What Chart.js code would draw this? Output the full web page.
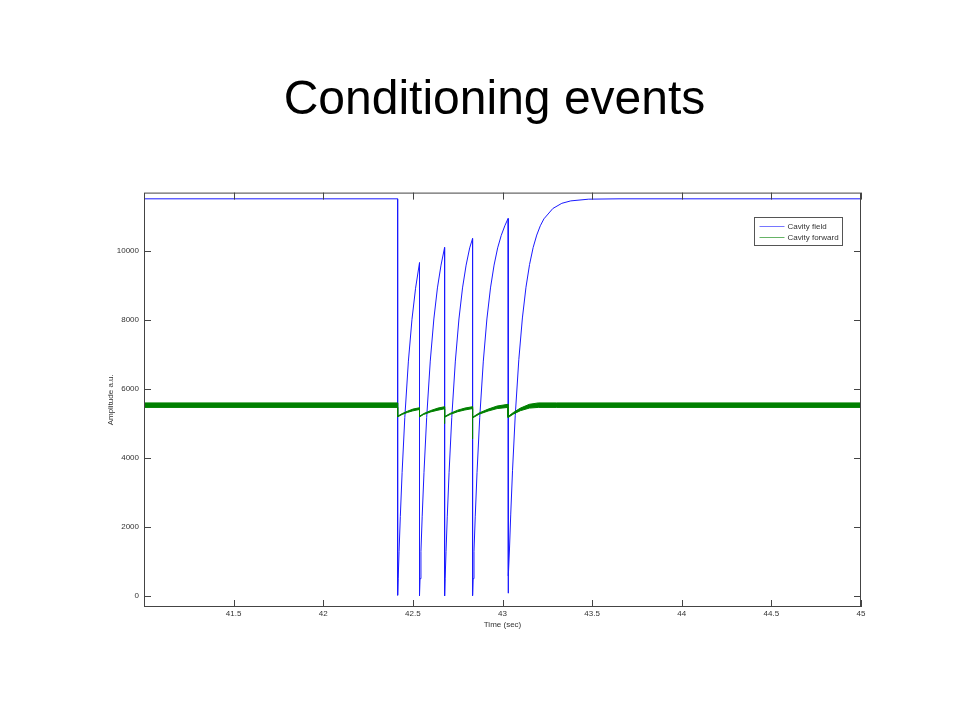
<!DOCTYPE html>
<html><head><meta charset="utf-8">
<script src="https://cdn.jsdelivr.net/npm/chart.js@4/dist/chart.umd.min.js"></script>
<style>html,body{margin:0;padding:0;background:#fff;}#wrap{width:960px;height:720px;}</style>
</head><body><div id="wrap"><canvas id="c" width="960" height="720"></canvas></div>
<script>
const chartTitle = 'Conditioning events';
const seriesNames = ['Cavity field', 'Cavity forward'];
const xAxisTitle = 'Time (sec)';
const yAxisTitle = 'Amplitude a.u.';
const xTicks = [41.5, 42, 42.5, 43, 43.5, 44, 44.5, 45];
const yTicks = [0, 2000, 4000, 6000, 8000, 10000];

// Cavity field (blue)
const fieldTime = [41.0, 42.415, 42.415, 42.418, 42.423, 42.430, 42.440, 42.455, 42.475, 42.495, 42.515, 42.537,
  42.537, 42.540, 42.545, 42.552, 42.562, 42.577, 42.597, 42.617, 42.637, 42.657, 42.677,
  42.677, 42.680, 42.685, 42.692, 42.702, 42.717, 42.737, 42.757, 42.777, 42.797, 42.817, 42.833,
  42.833, 42.836, 42.841, 42.848, 42.858, 42.873, 42.893, 42.913, 42.933, 42.953, 42.973, 42.993, 43.013, 43.031,
  43.031, 43.034, 43.039, 43.046, 43.056, 43.071, 43.091, 43.111, 43.131, 43.151, 43.171, 43.191, 43.211, 43.231, 43.281, 43.331, 43.381, 43.481, 43.65, 45.0];
const fieldValue = [11500, 11500, 20, 500, 1290, 2300, 3580, 5170, 6800, 8010, 8910, 9650,
  10, 500, 1290, 2310, 3580, 5170, 6800, 8020, 8920, 9580, 10090,
  0, 500, 1290, 2310, 3580, 5170, 6800, 8020, 8920, 9580, 10080, 10350,
  10, 500, 1290, 2310, 3580, 5170, 6800, 8020, 8920, 9580, 10080, 10440, 10720, 10930,
  80, 580, 1360, 2370, 3640, 5220, 6840, 8050, 8940, 9600, 10090, 10450, 10720, 10920, 11220, 11370, 11440, 11490, 11500, 11500];

// Cavity forward (green) - upper and lower edge of the noisy band
const forwardTime = [41.0, 42.415, 42.415, 42.44, 42.47, 42.50, 42.537, 42.537, 42.56, 42.60, 42.64, 42.677, 42.677, 42.677,
  42.71, 42.75, 42.79, 42.833, 42.833, 42.833, 42.87, 42.92, 42.97, 43.031, 43.031, 43.06, 43.10, 43.15, 43.20, 43.30, 45.0];
const forwardUpper = [5590, 5590, 5205, 5280, 5350, 5410, 5450, 5205, 5280, 5370, 5440, 5480, 5195, 5195,
  5290, 5380, 5440, 5480, 5175, 5175, 5300, 5410, 5500, 5550, 5195, 5310, 5440, 5550, 5590, 5590, 5590];
const forwardLower = [5460, 5460, 5185, 5255, 5315, 5360, 5400, 5185, 5255, 5330, 5380, 5420, 4990, 5175,
  5260, 5335, 5385, 5425, 4550, 5155, 5265, 5355, 5425, 5460, 5165, 5265, 5365, 5440, 5460, 5460, 5460];

const FONT = "'Liberation Sans', Arial, sans-serif";
const BLUE = '#1a1aff';
const GREEN = '#008000';
const FRAME = '#444444';
const TEXT = '#333333';

const toPts = (xs, ys) => xs.map((x, i) => ({x: x, y: ys[i]}));

const framePlugin = {
  id: 'frame',
  afterDraw(chart) {
    const {ctx, chartArea: a, scales: {x, y}} = chart;
    ctx.save();
    ctx.strokeStyle = FRAME;
    ctx.lineWidth = 1;
    ctx.strokeRect(a.left + 0.5, a.top + 0.5, a.width - 1, a.height - 1);
    const L = 7;
    ctx.beginPath();
    x.ticks.forEach(t => {
      const px = Math.round(x.getPixelForValue(t.value)) + 0.5;
      ctx.moveTo(px, a.bottom); ctx.lineTo(px, a.bottom - L);
      ctx.moveTo(px, a.top); ctx.lineTo(px, a.top + L);
    });
    y.ticks.forEach(t => {
      const py = Math.round(y.getPixelForValue(t.value)) + 0.5;
      ctx.moveTo(a.left, py); ctx.lineTo(a.left + L, py);
      ctx.moveTo(a.right, py); ctx.lineTo(a.right - L, py);
    });
    ctx.stroke();

    // legend box (inside plot, top-right)
    const bw = 88, bh = 28;
    const bx = Math.round(a.right - 19 - bw) + 0.5;
    const by = Math.round(a.top + 24) + 0.5;
    ctx.fillStyle = '#ffffff';
    ctx.fillRect(bx, by, bw, bh);
    ctx.strokeStyle = '#555555';
    ctx.strokeRect(bx, by, bw, bh);
    const items = [
      {label: chart.data.datasets[0].label, color: chart.data.datasets[0].borderColor},
      {label: chart.data.datasets[1].label, color: chart.data.datasets[1].borderColor}
    ];
    ctx.font = '8px ' + FONT;
    ctx.textBaseline = 'middle';
    ctx.textAlign = 'left';
    items.forEach((it, i) => {
      const ry = Math.round(by + 8 + i * 11) + 0.5;
      ctx.strokeStyle = it.color;
      ctx.globalAlpha = 0.6;
      ctx.beginPath();
      ctx.moveTo(bx + 5, ry); ctx.lineTo(bx + 30, ry);
      ctx.stroke();
      ctx.globalAlpha = 1;
      ctx.fillStyle = TEXT;
      ctx.fillText(it.label, bx + 33, ry);
    });
    ctx.restore();
  }
};

new Chart(document.getElementById('c'), {
  type: 'line',
  data: {
    datasets: [
      {label: seriesNames[0], data: toPts(fieldTime, fieldValue), borderColor: BLUE, borderWidth: 1,
       pointRadius: 0, fill: false, tension: 0, order: 1},
      {label: seriesNames[1], data: toPts(forwardTime, forwardUpper), borderColor: GREEN, borderWidth: 1,
       pointRadius: 0, fill: false, tension: 0, order: 0},
      {label: seriesNames[1] + ' lower', data: toPts(forwardTime, forwardLower), borderColor: GREEN, borderWidth: 1,
       pointRadius: 0, fill: '-1', backgroundColor: GREEN, tension: 0, order: 0}
    ]
  },
  options: {
    responsive: false,
    devicePixelRatio: 1,
    animation: false,
    events: [],
    layout: {padding: {left: 100, right: 71, top: 0, bottom: 83}},
    plugins: {
      legend: {display: false},
      tooltip: {enabled: false},
      title: {display: true, text: chartTitle, color: '#000',
        font: {family: FONT, size: 48, weight: 'normal', lineHeight: 1.2},
        padding: {top: 72, bottom: 63}}
    },
    scales: {
      x: {
        type: 'linear', min: 41, max: 45,
        afterBuildTicks: s => { s.ticks = xTicks.map(v => ({value: v})); },
        afterFit: s => { s.height = 30; },
        grid: {display: false, drawTicks: false},
        border: {display: false},
        ticks: {padding: 2, color: TEXT, font: {family: FONT, size: 8}, maxRotation: 0, autoSkip: false,
          callback: v => String(v)},
        title: {display: true, text: xAxisTitle, color: TEXT, font: {family: FONT, size: 8},
          padding: {top: 0, bottom: 7}}
      },
      y: {
        type: 'linear', min: -320, max: 11680,
        afterBuildTicks: s => { s.ticks = yTicks.map(v => ({value: v})); },
        afterFit: s => { s.width = 44; },
        grid: {display: false, drawTicks: false},
        border: {display: false},
        ticks: {padding: 5, color: TEXT, font: {family: FONT, size: 8}, autoSkip: false,
          callback: v => String(v)},
        title: {display: true, text: yAxisTitle, color: TEXT, font: {family: FONT, size: 8},
          padding: {top: 6, bottom: 0}}
      },
      yRight: {
        type: 'linear', position: 'right', min: -320, max: 11680,
        afterFit: s => { s.width = 28; },
        grid: {display: false, drawTicks: false},
        border: {display: false},
        ticks: {display: false}
      }
    }
  },
  plugins: [framePlugin]
});
</script></body></html>
